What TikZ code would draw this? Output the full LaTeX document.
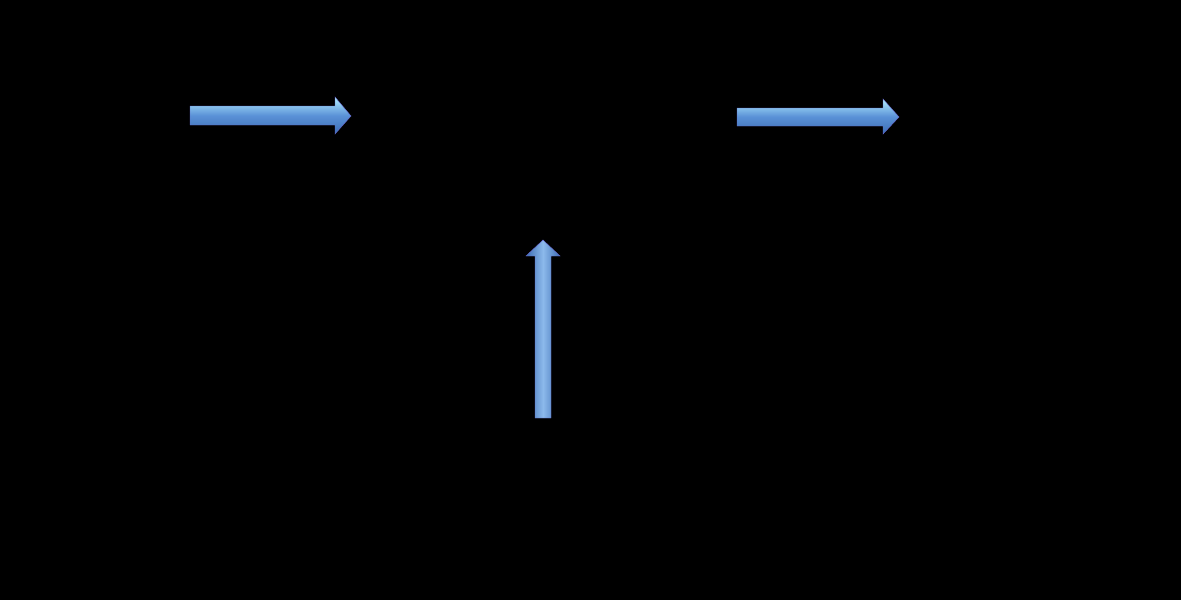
\documentclass[tikz,border=0pt]{standalone}
\usepackage{fontspec}
\setmainfont{Liberation Serif}
\begin{document}
\begin{tikzpicture}[x=1pt,y=-1pt,
  lbl/.style={anchor=west,inner sep=0pt,text=black,font=\fontsize{20}{24}\selectfont},
  small/.style={anchor=west,inner sep=0pt,text=black,font=\fontsize{10}{12}\selectfont},
  blockarrow/.style={draw=black!30!blue!60!white,line width=0.4pt,top color=blue!20!cyan!30!white,bottom color={rgb,255:red,60;green,110;blue,180},middle color={rgb,255:red,90;green,145;blue,215}},
  uparrow/.style={draw=black!30!blue!60!white,line width=0.4pt,left color={rgb,255:red,60;green,110;blue,180},right color={rgb,255:red,60;green,110;blue,180},middle color={rgb,255:red,140;green,185;blue,235}}]
\fill[black] (0,0) rectangle (1181,600);
\useasboundingbox (0,0) rectangle (1181,600);
% left
\node[lbl] (amr) at (5,52) {AMR-tiedot};
\node[lbl] (asi) at (5,118) {Asiakastiedot};
\node[lbl] (kus) at (5,185) {Kustannustiedot};
% middle
\node[lbl] (tar) at (368,19) {Tariffilaskenta};
\node[lbl] (koh) at (368,52) {Kustannusten kohdistaminen};
\node[lbl] (ver) at (459,85) {-\kern1pt Verkkotasot};
\node[lbl] (ryh) at (459,118) {-\kern1pt Asiakasryhmät};
\node[lbl] (sii) at (459,151) {-\kern1pt Siirtotuotteiden komponentit};
\node[lbl] (her) at (368,185) {Herkkyysanalyysi};
\node[small] (dots1) at (368,225) {…};
% right
\node[lbl] (lask) at (912,52) {Asiakkaiden sähkölaskut};
\node[lbl] (tulo) at (912,118) {Jakeluverkkoyhtiön tulot};
\node[lbl] (myy) at (912,185) {(Sähkön myyjän tulot)};
% bottom
\node[lbl] (rak) at (368,450) {Siirtotuoterakenteet};
\node[lbl] (sul) at (459,484) {-\kern1pt Sulakeperusteinen};
\node[lbl] (kys) at (459,517) {-\kern1pt Kysyntäperusteinen};
\node[lbl] (aik) at (459,550) {-\kern1pt Aikaperusteinen};
\node[lbl] (dots2) at (459,584) {-\kern1pt …};
% arrows
\coordinate (a1s) at (190,116);
\coordinate (a1e) at (351,116);
\path[blockarrow] (190,106) -- (335,106) -- (335,97) -- (351,116) -- (335,134) -- (335,125) -- (190,125) -- cycle;
\coordinate (a2s) at (737,117);
\coordinate (a2e) at (899,117);
\path[blockarrow] (737,108) -- (883,108) -- (883,99) -- (899,117) -- (883,134) -- (883,126) -- (737,126) -- cycle;
\coordinate (a3s) at (543,418);
\coordinate (a3e) at (543,240);
\path[uparrow] (535,418) -- (535,256) -- (526,256) -- (543,240) -- (560,256) -- (551,256) -- (551,418) -- cycle;
\end{tikzpicture}
\end{document}
